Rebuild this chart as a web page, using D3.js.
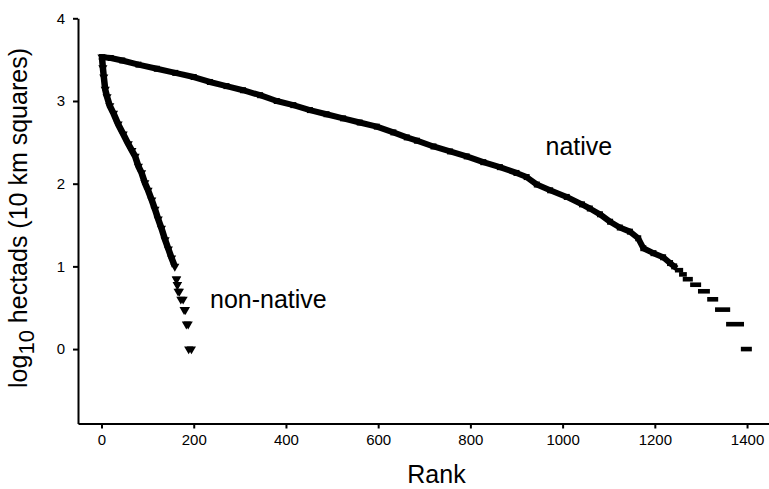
<!DOCTYPE html>
<html>
<head>
<meta charset="utf-8">
<script src="https://cdn.jsdelivr.net/npm/d3@7"></script>
<style>
  html, body { margin: 0; padding: 0; background: #fff; }
  svg { display: block; font-family: "Liberation Sans", Arial, Helvetica, sans-serif; }
</style>
</head>
<body>
<svg id="chart" width="769" height="489"></svg>
<script>
// ---- data ----
const xTicks = [0, 200, 400, 600, 800, 1000, 1200, 1400];
const yTicks = [0, 1, 2, 3, 4];

// native species: rank vs log10 hectads (main body)
const nativeRank = [1, 20, 45, 80, 120, 160, 200, 235, 271, 307, 344, 380, 416, 452, 488, 524, 560, 597, 633, 662, 684, 720, 756, 792, 828, 864, 900, 922, 944, 973, 1009, 1042, 1059, 1081, 1103, 1124, 1146, 1164, 1175, 1197, 1218, 1233, 1242];
const nativeLog  = [3.53, 3.52, 3.49, 3.44, 3.39, 3.34, 3.29, 3.23, 3.18, 3.13, 3.07, 3.00, 2.95, 2.89, 2.84, 2.79, 2.74, 2.69, 2.62, 2.56, 2.52, 2.45, 2.39, 2.33, 2.26, 2.20, 2.13, 2.08, 1.99, 1.92, 1.84, 1.75, 1.70, 1.63, 1.54, 1.47, 1.42, 1.34, 1.22, 1.16, 1.11, 1.04, 1.00];
// native species: tied ranks in the tail (value, first rank, last rank)
const nativeTailLog   = [0.954, 0.903, 0.845, 0.778, 0.699, 0.602, 0.477, 0.301, 0];
const nativeTailStart = [1249, 1258, 1266, 1282, 1299, 1319, 1336, 1360, 1392];
const nativeTailEnd   = [1256, 1264, 1277, 1295, 1314, 1332, 1358, 1388, 1405];

// non-native species: main body
const nonNativeRank = [1, 3, 5, 8, 12, 18, 26, 36, 47, 58, 66, 73, 80, 87, 94, 101, 109, 116, 123, 130, 138, 145, 152, 159];
const nonNativeLog  = [3.53, 3.40, 3.29, 3.14, 3.05, 2.94, 2.85, 2.72, 2.60, 2.48, 2.40, 2.33, 2.21, 2.13, 2.01, 1.92, 1.80, 1.69, 1.57, 1.46, 1.32, 1.21, 1.10, 1.00];
// non-native species: tied ranks in the tail
const nonNativeTailLog   = [0.845, 0.778, 0.699, 0.602, 0.477, 0.301, 0];
const nonNativeTailStart = [162, 164, 166, 172, 179, 184, 189];
const nonNativeTailEnd   = [163, 165, 169, 177, 182, 188, 195];

// ---- chart ----
const svg = d3.select("#chart");
const x = d3.scaleLinear().domain([-51, 1450]).range([78, 770.1]);
const y = d3.scaleLinear().domain([-0.9, 4]).range([423.5, 18.3]);

const xAxis = svg.append("g")
  .attr("transform", `translate(0,${y(-0.9)})`)
  .call(d3.axisBottom(x).tickValues(xTicks).tickSize(5).tickSizeOuter(0).tickPadding(6).tickFormat(d3.format("d")));
const yAxis = svg.append("g")
  .attr("transform", `translate(${x(-51)},0)`)
  .call(d3.axisLeft(y).tickValues(yTicks).tickSize(5).tickSizeOuter(0).tickPadding(8).tickFormat(d3.format("d")));

[xAxis, yAxis].forEach(g => {
  g.selectAll("path.domain").attr("stroke", "#000").attr("stroke-width", 2);
  g.selectAll(".tick line").attr("stroke", "#000").attr("stroke-width", 2);
  g.selectAll(".tick text").attr("fill", "#000").style("font-size", "15px")
    .style("font-family", '"Liberation Sans", Arial, Helvetica, sans-serif');
});

// native main body
const nativePts = nativeRank.map((r, i) => [r, nativeLog[i]]);
const line = d3.line().x(d => x(d[0])).y(d => y(d[1]));
svg.append("path").datum(nativePts)
  .attr("d", line).attr("fill", "none").attr("stroke", "#000")
  .attr("stroke-width", 6).attr("stroke-linejoin", "round").attr("stroke-linecap", "square");
svg.append("g").selectAll("rect").data(nativePts).join("rect")
  .attr("x", d => x(d[0]) - 3).attr("y", d => y(d[1]) - 3)
  .attr("width", 6).attr("height", 6).attr("fill", "#000");

// native tail (tied ranks)
svg.append("g").selectAll("rect").data(nativeTailLog.map((v, i) => ({v, s: nativeTailStart[i], e: nativeTailEnd[i]})))
  .join("rect")
  .attr("x", d => x(d.s) - 2.5).attr("width", d => x(d.e) - x(d.s) + 5)
  .attr("y", d => y(d.v) - 2.3).attr("height", 4.6).attr("fill", "#000");

// non-native main body
const nnPts = nonNativeRank.map((r, i) => [r, nonNativeLog[i]]);
svg.append("path").datum(nnPts)
  .attr("d", line).attr("fill", "none").attr("stroke", "#000")
  .attr("stroke-width", 6.5).attr("stroke-linejoin", "round");
const tri = d3.symbol().type(d3.symbolTriangle).size(36);
svg.append("g").selectAll("path").data(nnPts).join("path")
  .attr("d", tri).attr("fill", "#000")
  .attr("transform", d => `translate(${x(d[0])},${y(d[1])}) rotate(180)`);

// non-native tail (tied ranks): markers at first and last tied rank
const nnTail = [];
nonNativeTailLog.forEach((v, i) => {
  nnTail.push([nonNativeTailStart[i], v]);
  nnTail.push([nonNativeTailEnd[i], v]);
});
svg.append("g").selectAll("path").data(nnTail).join("path")
  .attr("d", tri).attr("fill", "#000")
  .attr("transform", d => `translate(${x(d[0])},${y(d[1])}) rotate(180)`);

// labels
svg.append("text").attr("x", 545.5).attr("y", 155).text("native")
  .style("font-size", "25px").attr("fill", "#000");
svg.append("text").attr("x", 210).attr("y", 308).text("non-native")
  .style("font-size", "25px").attr("fill", "#000");

svg.append("text").attr("x", 436.5).attr("y", 483)
  .attr("text-anchor", "middle").text("Rank")
  .style("font-size", "25px").attr("fill", "#000");

const yl = svg.append("text")
  .attr("transform", `translate(27,218) rotate(-90)`)
  .attr("text-anchor", "middle").style("font-size", "25px").attr("fill", "#000");
yl.append("tspan").text("log");
yl.append("tspan").attr("dy", 7).style("font-size", "22px").text("10");
yl.append("tspan").attr("dy", -7).text(" hectads (10 km squares)");
</script>
</body>
</html>
